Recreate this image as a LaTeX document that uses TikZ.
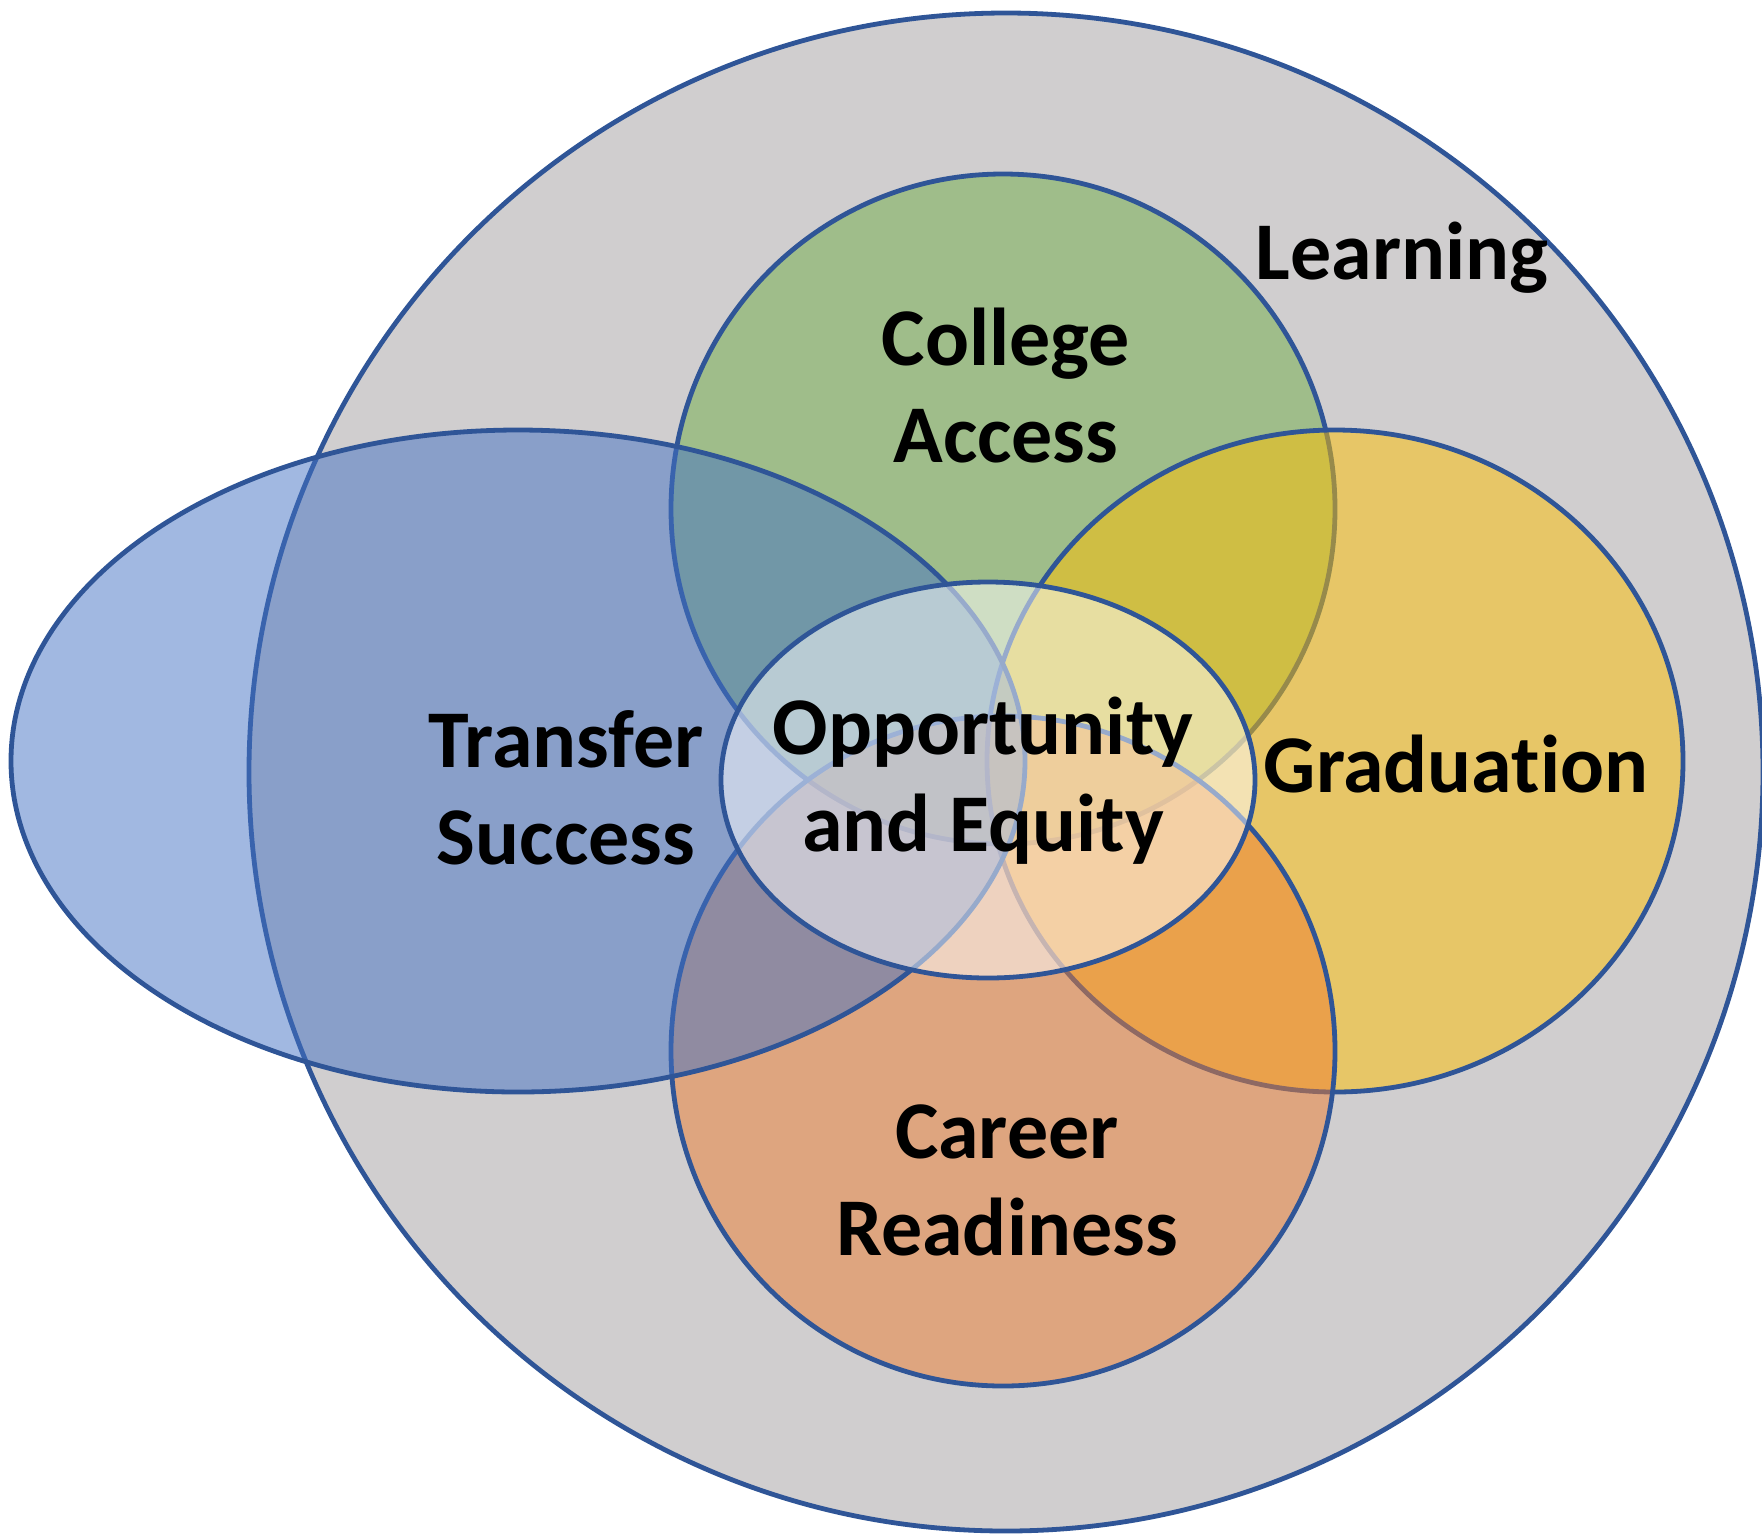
\documentclass[tikz,border=0pt]{standalone}
\usepackage{fontspec}
\setmainfont{Carlito}[RawFeature={-liga;-clig;-calt}]
\definecolor{bordercol}{HTML}{2F5597}
\definecolor{outergray}{RGB}{208,206,207}
\definecolor{cgreen}{HTML}{70AD47}
\definecolor{cgold}{HTML}{FFC000}
\definecolor{corange}{HTML}{ED7D31}
\definecolor{cblue}{HTML}{4472C4}
\begin{document}
\begin{tikzpicture}[x=0.5pt,y=-0.5pt,
  rim/.style={draw=bordercol,line width=2.4pt},
  tint/.style={rim,fill=#1,fill opacity=0.5},
  lbl/.style={font=\fontsize{41}{48.5}\selectfont\bfseries,align=center,text=black,inner sep=0pt}]
\useasboundingbox (0,0) rectangle (1762,1533);
\fill[white] (0,0) rectangle (1762,1533);
% outer Learning circle
\path[rim,fill=outergray] (1006,772) ellipse [x radius=757,y radius=759];
% College Access
\path[tint=cgreen] (1003,509) ellipse [x radius=332,y radius=335];
% Graduation
\path[tint=cgold] (1335,761) ellipse [x radius=348,y radius=331];
% Career Readiness
\path[tint=corange] (1003,1051) ellipse [x radius=332,y radius=335];
% Transfer Success
\path[tint=cblue] (518,761) ellipse [x radius=507,y radius=331];
% Opportunity and Equity
\path[tint=white] (988,780) ellipse [x radius=267,y radius=198];
% labels
\node[lbl] (learning) at (1402,258) {Learning};
\node[lbl] (college) at (1006,386) {College\\Access};
\node[lbl] (transfer) at (566,788) {Transfer\\Success};
\node[lbl] (opportunity) at (983,781) {Opportunity\\and Equity};
\node[lbl] (graduation) at (1456,764) {Graduat\kern0pt ion};
\node[lbl] (career) at (1007,1180) {Career\\Readiness};
\end{tikzpicture}
\end{document}
